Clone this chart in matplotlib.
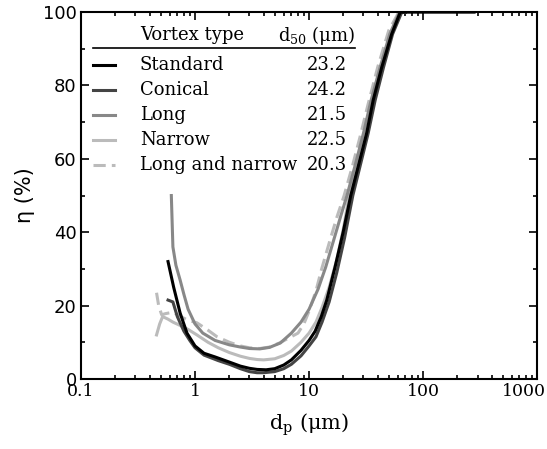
import matplotlib
matplotlib.use("Agg")
import matplotlib.pyplot as plt
from matplotlib.ticker import LogLocator, NullFormatter, MultipleLocator

# data
d_std = [0.58, 0.65, 0.74, 0.85, 1.0, 1.2, 1.5, 2.0, 2.5, 3.0, 3.5, 4.2, 5.0, 6.0, 7.0, 8.5, 10,
         11.3, 12.8, 14.3, 16.9, 19.9, 23.2, 27, 32, 36.5, 43.4, 53, 63, 100, 280]
eta_std = [32, 25, 18, 12.5, 9, 7, 6, 4.6, 3.5, 2.9, 2.6, 2.5, 2.8, 3.8, 5.2, 7.8, 10.5,
           13, 17, 21.5, 30.5, 40, 50, 58, 67, 76, 85, 94, 100, 100, 100]

d_con = [0.58, 0.64, 0.7, 0.8, 0.9, 1.0, 1.2, 1.6, 2.0, 2.5, 3.0, 3.5, 4.0, 5.0, 6.0, 7.0, 8.5, 10,
         11.5, 13, 15, 17.5, 20.5, 24.2, 28, 33, 38, 45, 54, 65, 70]
eta_con = [21.5, 21, 17, 13, 10.5, 8.5, 6.5, 5, 4, 2.8, 2.0, 1.7, 1.7, 2.0, 2.8, 4.0, 6.3, 9,
           11.5, 15.5, 21, 29, 38.5, 50, 58, 67, 76, 85, 94, 100, 100]

d_long = [0.62, 0.64, 0.68, 0.74, 0.8, 0.87, 1.0, 1.17, 1.5, 2.0, 2.5, 3.0, 3.7, 4.5, 5.6, 7, 8.5,
          10, 12, 14, 16.5, 19, 21.5, 25, 30, 35, 42, 51, 62, 70]
eta_long = [50, 36, 31, 27, 23, 19, 15, 12.5, 10.5, 9.3, 8.7, 8.3, 8.2, 8.6, 9.8, 12.5, 15.5,
            19, 24.5, 30.5, 38, 44.5, 50, 57.5, 67, 76, 85, 94, 100, 100]

d_nar = [0.46, 0.49, 0.52, 0.58, 0.64, 0.75, 0.87, 1.04, 1.3, 1.6, 2.0, 2.5, 3.0, 3.5, 4.0, 5.0, 6.0,
         7.0, 8.5, 10, 11.5, 13, 15, 17.5, 20, 22.5, 26, 31, 36, 43, 52, 63, 70]
eta_nar = [12, 15, 17, 16.3, 15.5, 14.5, 13.5, 12, 10, 8.5, 7.2, 6.2, 5.6, 5.3, 5.2, 5.5, 6.4,
           7.6, 10, 12.5, 15.5, 19.5, 25, 32.5, 41, 50, 57.5, 67, 76, 85, 94, 100, 100]

d_ln = [0.46, 0.48, 0.51, 0.55, 0.64, 0.75, 0.87, 1.04, 1.3, 1.56, 2.0, 2.5, 3.0, 3.7, 4.5, 5.5, 6.5,
        8, 9, 10, 11.5, 12.9, 15, 17.5, 20.3, 24, 28, 33, 40, 50, 60, 70]
eta_ln = [23.5, 20, 17.5, 17.8, 18.2, 17, 16, 15.3, 13.3, 11.5, 10, 9, 8.5, 8.3, 8.7, 9.8, 11,
          12.5, 15, 18.5, 24, 30, 37, 44, 50, 58, 66, 75, 85, 95, 99.5, 100]

names = ["Standard", "Conical", "Long", "Narrow", "Long and narrow"]
d50 = ["23.2", "24.2", "21.5", "22.5", "20.3"]
colors = ["#000000", "#444444", "#888888", "#bbbbbb", "#bbbbbb"]
styles = ["-", "-", "-", "-", (0, (4, 2))]
xs = [d_std, d_con, d_long, d_nar, d_ln]
ys = [eta_std, eta_con, eta_long, eta_nar, eta_ln]

serif = "DejaVu Serif"
fig = plt.figure(figsize=(5.47, 4.49), dpi=100)
ax = fig.add_axes([0.148, 0.156, 0.834, 0.817])

# draw light ones first so the black sits on top
for i in [3, 4, 2, 1, 0]:
    ax.plot(xs[i], ys[i], color=colors[i], linestyle=styles[i], lw=2.2)

ax.set_xscale("log")
ax.set_xlim(0.1, 1000)
ax.set_ylim(0, 100)
ax.xaxis.set_minor_locator(LogLocator(base=10, subs=range(2, 10), numticks=20))
ax.xaxis.set_minor_formatter(NullFormatter())
ax.set_xticks([0.1, 1, 10, 100, 1000])
# last label is pulled in so it fits the figure, as in the original
ax.set_xticklabels(["0.1", "1", "10", "100", ""], fontfamily=serif, fontsize=12.5)
fig.text(546 / 547, (449 - 382.5) / 449, "1000", ha="right", va="top",
         fontfamily=serif, fontsize=12.5)
ax.yaxis.set_major_locator(MultipleLocator(20))
ax.yaxis.set_minor_locator(MultipleLocator(10))
for lab in ax.get_yticklabels():
    lab.set_fontsize(13)
ax.tick_params(which="both", direction="in", top=True, right=True, width=1.2)
ax.tick_params(which="major", length=6, pad=3)
ax.tick_params(which="minor", length=3)
for s in ax.spines.values():
    s.set_linewidth(1.5)

ax.set_xlabel(r"d$_\mathregular{p}$ ($\mathregular{\mu}$m)", fontfamily=serif, fontsize=15, labelpad=8)
ax.set_ylabel("η (%)", fontsize=15, labelpad=6)

# legend table
tr = ax.transAxes
def ax_xy(px, py):
    return (px - 81) / 456, (379 - py) / 367

x0, y0 = ax_xy(140, 35)
ax.text(x0, y0, "Vortex type", transform=tr, fontfamily=serif, fontsize=13, va="center")
x1, _ = ax_xy(355, 35)
ax.text(x1, y0, r"d$_\mathregular{50}$ ($\mathregular{\mu}$m)", transform=tr, fontfamily=serif,
        fontsize=13, va="center", ha="right")
xa, yl = ax_xy(93, 48)
xb, _ = ax_xy(355, 48)
ax.plot([xa, xb], [yl, yl], transform=tr, color="black", lw=1.2)
xl1, _ = ax_xy(93, 0)
xl2, _ = ax_xy(115, 0)
xn, _ = ax_xy(347, 0)
for i in range(5):
    _, yy = ax_xy(0, 65 + 25 * i)
    ax.plot([xl1, xl2], [yy, yy], transform=tr, color=colors[i], linestyle=styles[i], lw=2.2)
    ax.text(x0, yy, names[i], transform=tr, fontfamily=serif, fontsize=13, va="center")
    ax.text(xn, yy, d50[i], transform=tr, fontfamily=serif, fontsize=13, va="center", ha="right")

fig.savefig("out.png", dpi=100)
